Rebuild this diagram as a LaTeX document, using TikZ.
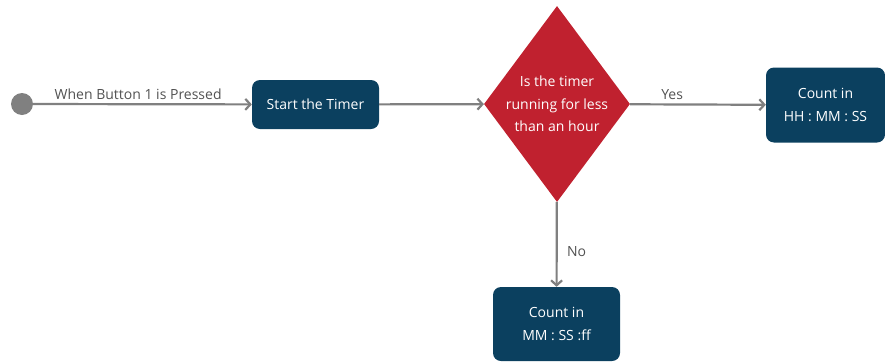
\documentclass[tikz,border=0pt]{standalone}
\usepackage{fontspec}
\setmainfont{Open Sans}
\usetikzlibrary{arrows.meta,shapes.geometric,positioning}
\definecolor{boxblue}{HTML}{0B405F}
\definecolor{decred}{HTML}{C0212F}
\definecolor{linegray}{HTML}{808080}

\begin{document}
\begin{tikzpicture}[x=1pt, y=-1pt, >={Straight Barb[length=5pt,width=11pt]},
    every node/.style={font=\fontsize{14}{22.5}\selectfont},
    stepbox/.style={fill=boxblue, text=white, rounded corners=8pt, align=center, inner sep=0pt},
    decision/.style={diamond, fill=decred, text=white, align=center, inner sep=0pt,
        minimum width=146pt, minimum height=196pt, aspect=0.745},
    flow/.style={->, draw=linegray, line width=2.2pt},
    lbl/.style={text=black!68}]
    \useasboundingbox (0,0) rectangle (885,362);

    \node[circle, fill=linegray, minimum size=22pt, inner sep=0pt] (init) at (22,104) {};
    \node[stepbox, minimum width=127pt, minimum height=49pt] (start) at (315.5,104.5) {Start the Timer};
    \node[decision] (check) at (557,104) {Is the timer\\running for less\\than an hour};
    \node[stepbox, minimum width=119pt, minimum height=75pt] (hms) at (825.5,105) {Count in\\HH : MM : SS};
    \node[stepbox, minimum width=127pt, minimum height=74pt] (msf) at (556.5,324) {Count in\\MM : SS :ff};

    \draw[flow] (init) -- (start) node[lbl, pos=0.48, above=0pt] {When Button 1 is Pressed};
    \draw[flow] (start) -- (check);
    \draw[flow] (check) -- (hms) node[lbl, pos=0.31, above=0pt] {Yes};
    \draw[flow] (check) -- (msf) node[lbl, pos=0.58, right=6pt] {No};
\end{tikzpicture}
\end{document}
